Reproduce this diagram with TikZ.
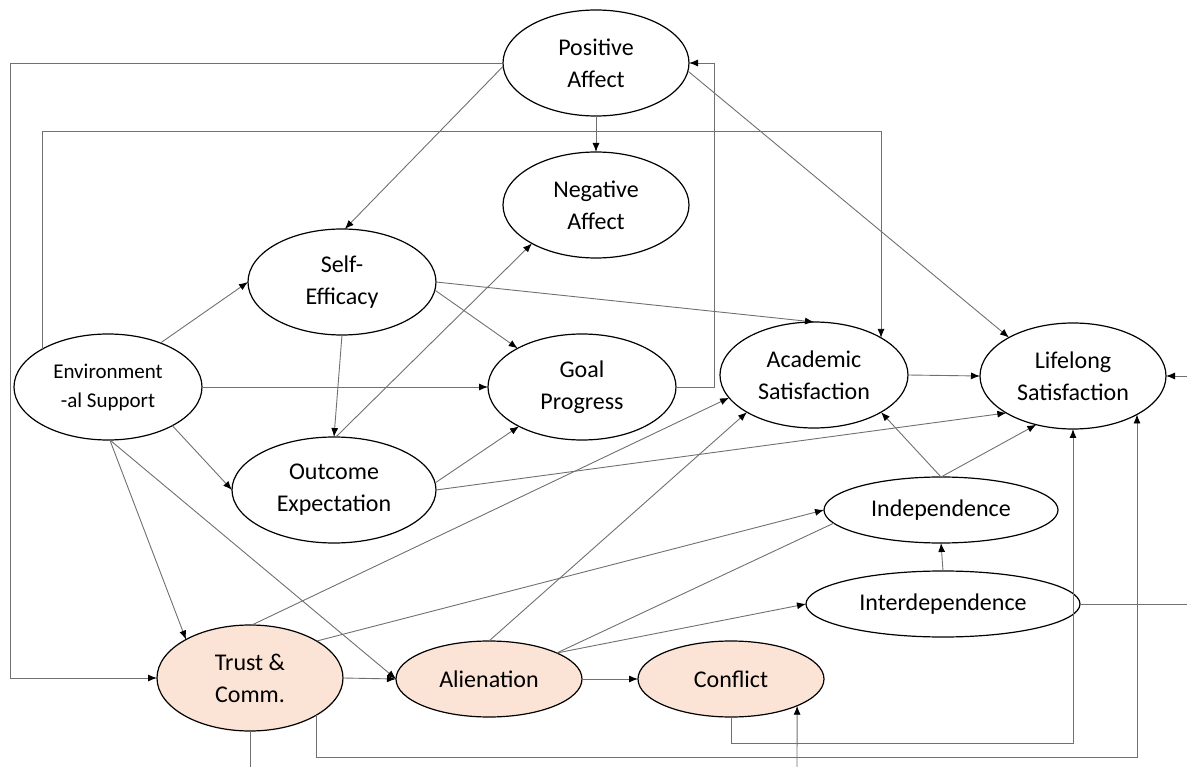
\documentclass[tikz,border=0pt]{standalone}
\usepackage{fontspec}
\setmainfont{Carlito}
\usetikzlibrary{shapes.geometric,arrows.meta}
\definecolor{linkgray}{RGB}{112,112,112}
\definecolor{peach}{RGB}{251,228,214}
\begin{document}
\begin{tikzpicture}[x=1pt,y=-1pt,
  construct/.style={ellipse,draw=black,line width=1.2pt,fill=white,
    inner sep=0pt,outer sep=0pt,align=center,text=black,
    font=\fontsize{24}{32}\selectfont},
  relational/.style={construct,fill=peach},
  conn/.style={draw=linkgray,line width=0.9pt},
  arrowconn/.style={conn,-{Latex[length=9pt,width=7pt,color=black]}}]
\useasboundingbox (0,0) rectangle (1187,767);

% constructs
\node[construct,minimum width=186pt,minimum height=106pt] (pa) at (596,63) {Positive\\Affect};
\node[construct,minimum width=186pt,minimum height=106pt] (na) at (596,205) {Negative\\Affect};
\node[construct,minimum width=188pt,minimum height=106pt] (se) at (342,282) {Self-\\Efficacy};
\node[construct,minimum width=188pt,minimum height=106pt,
      font=\fontsize{21}{29}\selectfont] (env) at (108,387) {Environment\\-al Support};
\node[construct,minimum width=188pt,minimum height=106pt] (gp) at (582,387) {Goal\\Progress};
\node[construct,minimum width=188pt,minimum height=106pt] (as) at (814,375) {Academic\\Satisfaction};
\node[construct,minimum width=186pt,minimum height=106pt] (ls) at (1073,376) {Lifelong\\Satisfaction};
\node[construct,minimum width=204pt,minimum height=106pt] (oe) at (334,490) {Outcome\\Expectation};
\node[construct,minimum width=234pt,minimum height=66pt] (ind) at (941,510) {Independence};
\node[construct,minimum width=274pt,minimum height=66pt] (inter) at (943,604) {Interdependence};
\node[relational,minimum width=186pt,minimum height=106pt] (tc) at (250,678) {Trust \&\\Comm.};
\node[relational,minimum width=186pt,minimum height=76pt] (al) at (489,679) {Alienation};
\node[relational,minimum width=186pt,minimum height=76pt] (cf) at (731,679) {Conflict};

% free ends at the picture border
\coordinate (edgeI) at (1187,604);
\coordinate (edgeL) at (1187,376);
\coordinate (edgeT) at (250,767);
\coordinate (edgeC) at (797,767);

% routed loops
\draw[arrowconn] (pa.west) -- ++(-493,0) |- (tc.west);
\draw[arrowconn] (env.150.3) -- ++(0,-218) -| (as.29.7);
\draw[arrowconn] (gp.east) -- ++(38,0) |- (pa.east);
\draw[arrowconn] (cf.south) -- ++(0,26) -| (ls.south);
\draw[arrowconn] (tc.-29) -- ++(0,42) -| (ls.-31);

% direct paths
\draw[arrowconn] (pa.182) -- (se.87);
\draw[arrowconn] (pa.south) -- (na.north);
\draw[arrowconn] (pa.355) -- (ls.149);
\draw[arrowconn] (se.east) -- (as.north);
\draw[arrowconn] (se.355) -- (gp.149);
\draw[arrowconn] (se.south) -- (oe.north);
\draw[arrowconn] (env.40) -- (se.west);
\draw[arrowconn] (env.east) -- (gp.west);
\draw[arrowconn] (env.-31) -- (oe.west);
\draw[arrowconn] (env.-88) -- (tc.149);
\draw[arrowconn] (env.-88) -- (al.west);
\draw[arrowconn] (oe.88) -- (na.211);
\draw[arrowconn] (oe.4) -- (gp.212);
\draw[arrowconn] (oe.east) -- (ls.209);
\draw[arrowconn] (as.east) -- (ls.west);
\draw[arrowconn] (tc.88) -- (as.195);
\draw[arrowconn] (tc.29) -- (ind.west);
\draw[arrowconn] (tc.east) -- (al.west);
\draw[arrowconn] (al.north) -- (as.209);
\draw[arrowconn] (al.21) -- (inter.west);
\draw[arrowconn] (al.east) -- (cf.west);
\draw[conn] (ind.187) -- (al.21);
\draw[arrowconn] (ind.north) -- (as.331);
\draw[arrowconn] (ind.north) -- (ls.233);
\draw[arrowconn] (inter.north) -- (ind.south);

% paths leaving the frame
\draw[conn] (inter.east) -- (edgeI);
\draw[arrowconn] (edgeL) -- (ls.east);
\draw[conn] (tc.south) -- (edgeT);
\draw[arrowconn] (edgeC) -- (cf.-22);
\end{tikzpicture}
\end{document}
